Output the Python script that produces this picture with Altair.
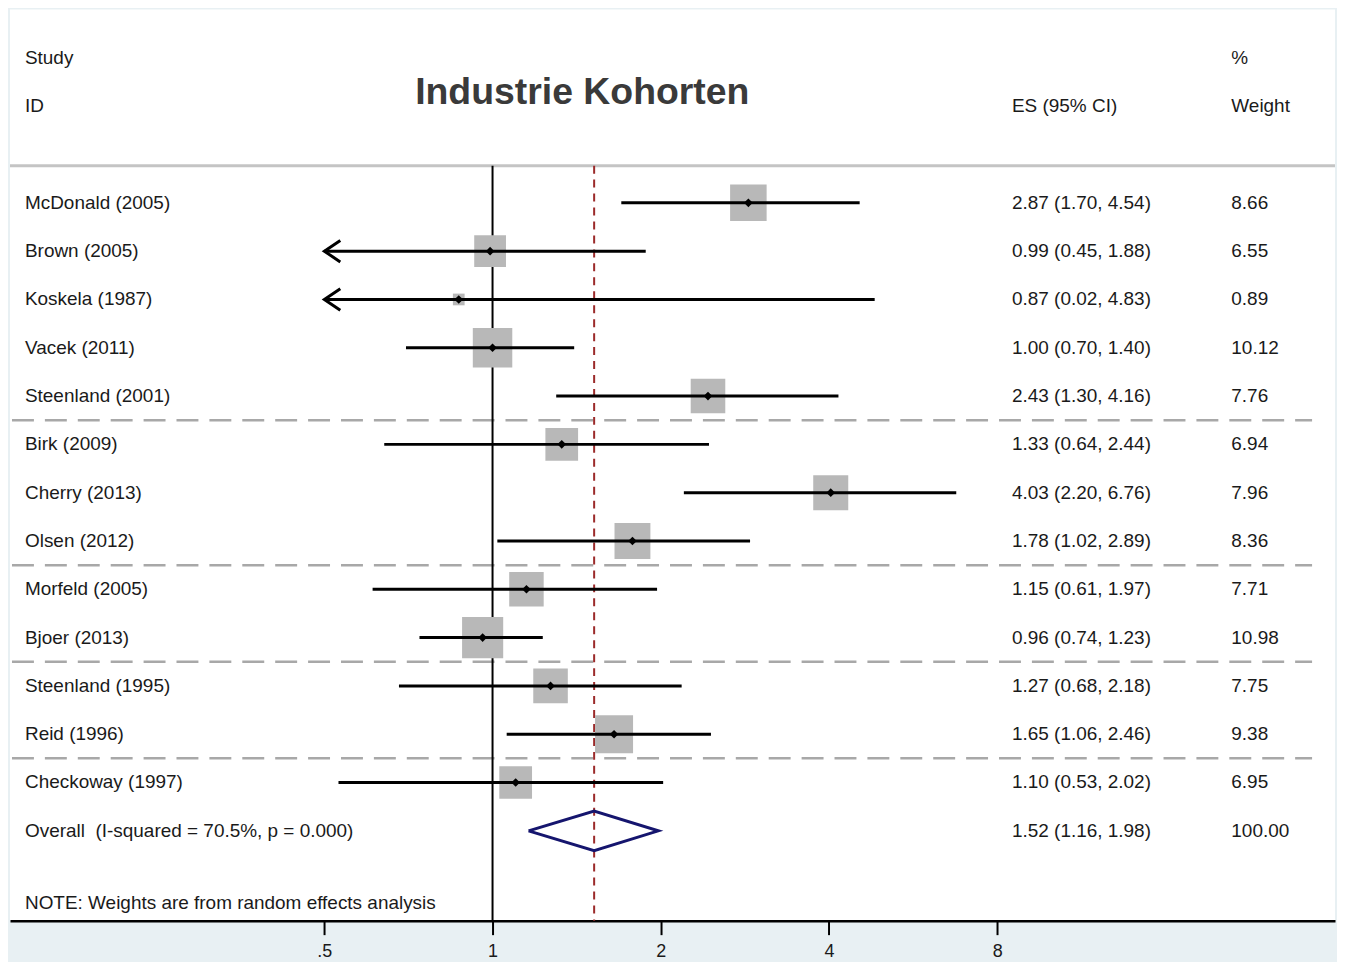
import altair as alt
import pandas as pd
import numpy as np

# ---------------- data ----------------
studies = ["McDonald (2005)", "Brown (2005)", "Koskela (1987)", "Vacek (2011)",
           "Steenland (2001)", "Birk (2009)", "Cherry (2013)", "Olsen (2012)",
           "Morfeld (2005)", "Bjoer (2013)", "Steenland (1995)", "Reid (1996)",
           "Checkoway (1997)"]
es = [2.87, 0.99, 0.87, 1.00, 2.43, 1.33, 4.03, 1.78, 1.15, 0.96, 1.27, 1.65, 1.10]
lo = [1.70, 0.45, 0.02, 0.70, 1.30, 0.64, 2.20, 1.02, 0.61, 0.74, 0.68, 1.06, 0.53]
hi = [4.54, 1.88, 4.83, 1.40, 4.16, 2.44, 6.76, 2.89, 1.97, 1.23, 2.18, 2.46, 2.02]
weights = [8.66, 6.55, 0.89, 10.12, 7.76, 6.94, 7.96, 8.36, 7.71, 10.98, 7.75, 9.38, 6.95]

overall_es, overall_lo, overall_hi = 1.52, 1.16, 1.98
overall_label = "Overall\u00a0 (I-squared = 70.5%, p = 0.000)"
note_text = "NOTE: Weights are from random effects analysis"
title_text = "Industrie Kohorten"
group_breaks = [4.5, 7.5, 9.5, 11.5]
x_ticks = [0.5, 1, 2, 4, 8]
axis_min = 0.5

# ---------------- layout ----------------
W, H = 1329, 914
ROW = 48.45
y_lo = -194 / ROW
y_hi = y_lo + H / ROW
x_unit = 168.7
x_left = 2 ** (-484 / x_unit)
x_right = 2 ** ((W - 484) / x_unit)
HDR_LINE = -0.77

FONT = "Liberation Sans"
FS = 19

n = len(studies)
df = pd.DataFrame({
    "study": studies, "es": es, "lo": lo, "hi": hi, "w": weights,
    "row": list(range(n)),
})
df["lo_plot"] = np.maximum(df["lo"], axis_min)
df["es_txt"] = [f"{e:.2f} ({l:.2f}, {h:.2f})" for e, l, h in zip(es, lo, hi)]
df["w_txt"] = [f"{w:.2f}" for w in weights]

xs = alt.Scale(type="log", domain=[x_left, x_right], nice=False)
ys = alt.Scale(domain=[y_lo, y_hi], reverse=True, nice=False, zero=False)


def X(f):
    return alt.X(f, scale=xs,
                 axis=alt.Axis(values=x_ticks, title=None, grid=False,
                               labelExpr="datum.value == 0.5 ? '.5' : datum.label"))


def Y(f):
    return alt.Y(f, scale=ys, axis=None)


base = alt.Chart(df)

# vertical reference lines
vdf = pd.DataFrame({"v": [1.0], "top": [HDR_LINE]})
vline = alt.Chart(vdf).mark_rule(color="black", strokeWidth=2).encode(
    x=X("v:Q"), y=Y("top:Q"), y2=alt.value(H))
odf = pd.DataFrame({"v": [overall_es], "top": [HDR_LINE]})
oline = alt.Chart(odf).mark_rule(
    color="#9b2a2a", strokeWidth=2, strokeDash=[8, 6]).encode(
    x=X("v:Q"), y=Y("top:Q"), y2=alt.value(H))

# header line and group separators
hline = alt.Chart(pd.DataFrame({"r": [HDR_LINE]})).mark_rule(color="#c4c4c4", strokeWidth=3).encode(
    y=Y("r:Q"), x=alt.value(0), x2=alt.value(W))
seps = alt.Chart(pd.DataFrame({"r": group_breaks})).mark_rule(
    color="#a8a8a8", strokeWidth=2.5, strokeDash=[22, 11]).encode(
    y=Y("r:Q"), x=alt.value(2), x2=alt.value(1306))

squares = base.mark_square(color="#b8b8b8", opacity=1).encode(
    x=X("es:Q"), y=Y("row:Q"),
    size=alt.Size("w:Q", scale=alt.Scale(domain=[0, 10.98], range=[0, 10.98 * 155]), legend=None))
ci = base.mark_rule(color="black", strokeWidth=3).encode(
    x=X("lo_plot:Q"), x2=alt.X2("hi:Q"), y=Y("row:Q"))
pts = base.mark_point(shape="diamond", filled=True, color="black", size=75, opacity=1).encode(
    x=X("es:Q"), y=Y("row:Q"))
arrows = base.transform_filter(f"datum.lo < {axis_min}").mark_point(
    shape="M2,-1.35L0,0L2,1.35", filled=False, color="black", strokeWidth=3,
    size=256, opacity=1).encode(x=X("lo_plot:Q"), y=Y("row:Q"))

# overall diamond
dia = pd.DataFrame({
    "x": [overall_lo, overall_es, overall_hi, overall_es, overall_lo],
    "y": [n, n - 0.41, n, n + 0.41, n],
    "o": [0, 1, 2, 3, 4],
})
diamond = alt.Chart(dia).mark_line(color="#15156e", strokeWidth=3).encode(
    x=X("x:Q"), y=Y("y:Q"), order=alt.Order("o:Q"))

# text columns
TX_L, TX_ES, TX_W = 15, 1005, 1225
txt = dict(font=FONT, fontSize=FS, color="#1a1a1a", align="left", baseline="middle")
lab = base.mark_text(**txt).encode(x=alt.value(TX_L), y=Y("row:Q"), text="study:N")
est = base.mark_text(**txt).encode(x=alt.value(TX_ES), y=Y("row:Q"), text="es_txt:N")
wt = base.mark_text(**txt).encode(x=alt.value(TX_W), y=Y("row:Q"), text="w_txt:N")

ov = pd.DataFrame({"row": [n], "label": [overall_label],
                   "es_txt": [f"{overall_es:.2f} ({overall_lo:.2f}, {overall_hi:.2f})"],
                   "w_txt": ["100.00"]})
ov_lab = alt.Chart(ov).mark_text(**txt).encode(x=alt.value(TX_L), y=Y("row:Q"), text="label:N")
ov_es = alt.Chart(ov).mark_text(**txt).encode(x=alt.value(TX_ES), y=Y("row:Q"), text="es_txt:N")
ov_w = alt.Chart(ov).mark_text(**txt).encode(x=alt.value(TX_W), y=Y("row:Q"), text="w_txt:N")

left_hdr = pd.DataFrame({"t": ["Study", "ID", note_text], "r": [-3.0, -2.0, 14.5]})
es_hdr = pd.DataFrame({"t": ["ES (95% CI)"], "r": [-2.0]})
w_hdr = pd.DataFrame({"t": ["%", "Weight"], "r": [-3.0, -2.0]})
h1 = alt.Chart(left_hdr).mark_text(**txt).encode(x=alt.value(TX_L), y=Y("r:Q"), text="t:N")
h2 = alt.Chart(es_hdr).mark_text(**txt).encode(x=alt.value(TX_ES), y=Y("r:Q"), text="t:N")
h3 = alt.Chart(w_hdr).mark_text(**txt).encode(x=alt.value(TX_W), y=Y("r:Q"), text="t:N")
title = alt.Chart(pd.DataFrame({"t": [title_text], "r": [-2.28]})).mark_text(
    font=FONT, fontSize=37.5, fontWeight="bold", color="#3a3a3a", align="center",
    baseline="middle").encode(x=alt.value(574), y=Y("r:Q"), text="t:N")

chart = alt.layer(
    hline, seps, vline, oline, squares, ci, arrows, pts, diamond,
    lab, est, wt, ov_lab, ov_es, ov_w, h1, h2, h3, title,
).properties(
    width=W, height=H, background="#e8f0f3", padding=0,
).configure_view(
    fill="white", stroke=None,
).configure_axis(
    domainColor="black", domainWidth=2.5, tickColor="black", tickWidth=2,
    tickSize=14, labelFont=FONT, labelFontSize=18, labelColor="#1a1a1a",
    labelPadding=8,
)

chart.save("out.html", embed_options={"renderer": "svg", "actions": False})
